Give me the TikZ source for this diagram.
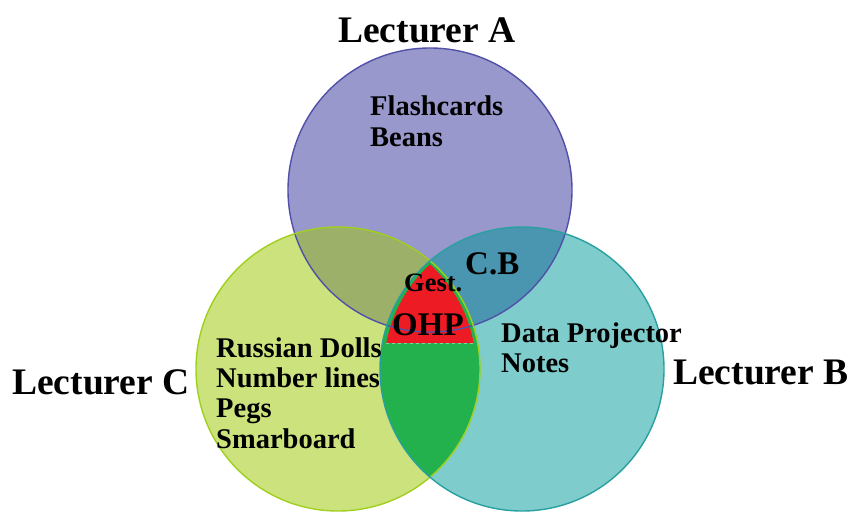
\documentclass[tikz,border=0pt]{standalone}
\usepackage{fontspec}
\setmainfont{Liberation Serif}
\begin{document}
\definecolor{fillA}{RGB}{152,152,204}
\definecolor{fillB}{RGB}{126,204,204}
\definecolor{fillC}{RGB}{204,226,125}
\definecolor{lineA}{RGB}{80,80,168}
\definecolor{lineB}{RGB}{40,160,160}
\definecolor{lineC}{RGB}{160,208,30}
\definecolor{fillAC}{RGB}{156,176,106}
\definecolor{fillAB}{RGB}{74,150,176}
\definecolor{fillBC}{RGB}{34,177,76}
\definecolor{fillABC}{RGB}{237,28,36}
\begin{tikzpicture}[x=1pt,y=-1pt,
  setname/.style={anchor=base west,inner sep=0pt,font=\fontsize{37.5}{38}\selectfont\bfseries},
  item/.style={anchor=base west,inner sep=0pt,font=\fontsize{28.5}{30}\selectfont\bfseries},
  midlabel/.style={anchor=base west,inner sep=0pt,font=\fontsize{33}{34}\selectfont\bfseries},
  ring/.style={line width=1.4pt}]
\useasboundingbox (0,0) rectangle (853,512);
\coordinate (cA) at (430,190);
\coordinate (cB) at (522,369);
\coordinate (cC) at (338,369);
% slightly inset lens for the shared core
\coordinate (kB) at (526,369);
\coordinate (kC) at (334,369);
\def\rad{142}
% the three sets
\fill[fillA] (cA) circle[radius=\rad];
\fill[fillC] (cC) circle[radius=\rad];
\fill[fillB] (cB) circle[radius=\rad];
% pairwise overlaps
\begin{scope}
  \clip (cA) circle[radius=\rad];
  \fill[fillAC] (cC) circle[radius=\rad];
  \fill[fillAB] (cB) circle[radius=\rad];
\end{scope}
\begin{scope}
  \clip (cB) circle[radius=\rad];
  \fill[fillBC] (cC) circle[radius=\rad];
\end{scope}
% shared core
\begin{scope}
  \clip (kB) circle[radius=\rad];
  \clip (kC) circle[radius=\rad];
  \fill[fillABC] (380,250) rectangle (480,343);
  \draw[fillBC!55!white,line width=0.8pt,dashed] (380,343) -- (480,343);
\end{scope}
% outlines
\draw[ring,lineA] (cA) circle[radius=\rad];
\draw[ring,lineC] (cC) circle[radius=\rad];
\draw[ring,lineB] (cB) circle[radius=\rad];
% set names
\node[setname] (nameA) at (338,42) {Lecturer A};
\node[setname] (nameB) at (673,384) {Lecturer B};
\node[setname] (nameC) at (12,394) {Lecturer C};
% resources
\node[item] (flash) at (370,115) {Flashcards};
\node[item] (beans) at (370,146) {Beans};
\node[item] (dolls) at (216,357) {Russian Dolls};
\node[item] (numl) at (216,387) {Number lines};
\node[item] (pegs) at (216,417) {Pegs};
\node[item] (smart) at (216,448) {Smarboard};
\node[item] (data) at (501,342) {Data Projector};
\node[item] (notes) at (501,372) {Notes};
\node[midlabel] (cb) at (465,274) {C.B};
\node[anchor=base west,inner sep=0pt,font=\fontsize{26.5}{27}\selectfont\bfseries] (gest) at (404,291) {Gest.};
\node[midlabel] (ohp) at (392,335) {OHP};
\end{tikzpicture}
\end{document}
